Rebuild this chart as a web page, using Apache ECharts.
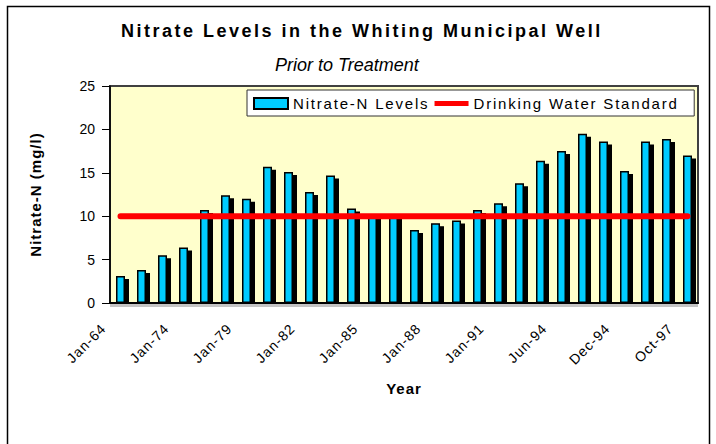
<!DOCTYPE html>
<html>
<head>
<meta charset="utf-8">
<title>Nitrate Levels in the Whiting Municipal Well</title>
<script src="https://cdn.jsdelivr.net/npm/echarts@6/dist/echarts.min.js"></script>
<style>
	html, body {
		margin: 0;
		padding: 0;
		background: #fff;
	}
	#chart {
		width: 716px;
		height: 444px;
	}
	/* spaced lettering like the excel export, picked by a dummy fallback family */
	#chart text[style*="spTitle"] { letter-spacing: 2.5px; }
	#chart text[style*="spLegend"] { letter-spacing: 1.8px; }
	#chart text[style*="spName"] { letter-spacing: 1px; }
</style>
</head>
<body>
<div id="chart"></div>
<script>
	// sample dates, only every third one is shown on the axis
	var categories = [
		'Jan-64', 'Jan-69', 'Jan-72', 'Jan-74', 'Jan-76', 'Jan-77', 'Jan-79',
		'Jan-80', 'Jan-81', 'Jan-82', 'Jan-83', 'Jan-84', 'Jan-85', 'Jan-86',
		'Jan-87', 'Jan-88', 'Jan-89', 'Jan-90', 'Jan-91', 'Jan-92', 'Jan-93',
		'Jun-94', 'Aug-94', 'Oct-94', 'Dec-94', 'Jan-96', 'Jan-97', 'Oct-97'
	];

	// Nitrate-N (mg/l)
	var nitrateLevels = [
		3.1, 3.8, 5.5, 6.4, 10.7, 12.4, 12.0,
		15.7, 15.1, 12.8, 14.7, 10.9, 10.1, 10.2,
		8.4, 9.2, 9.5, 10.7, 11.5, 13.8, 16.4,
		17.5, 19.5, 18.6, 15.2, 18.6, 18.9, 17.0
	];

	var drinkingStandard = [
		10, 10, 10, 10, 10, 10, 10,
		10, 10, 10, 10, 10, 10, 10,
		10, 10, 10, 10, 10, 10, 10,
		10, 10, 10, 10, 10, 10, 10
	];

	var yTicks = [0, 25, 5];

	var font = 'Liberation Sans';

	var option = {
		backgroundColor: '#fff',
		animation: false,
		title: [{
			text: 'Nitrate Levels in the Whiting Municipal Well',
			left: 121,
			top: 22,
			padding: 0,
			textStyle: {
				fontFamily: font + ', spTitle',
				fontSize: 18,
				fontWeight: 'bold',
				color: '#000'
			}
		}, {
			text: 'Prior to Treatment',
			left: 275,
			top: 56,
			padding: 0,
			textStyle: {
				fontFamily: font,
				fontSize: 18,
				fontStyle: 'italic',
				fontWeight: 'normal',
				color: '#000'
			}
		}],
		legend: {
			left: 247,
			top: 90,
			padding: [6, 57, 5, 6],
			itemGap: 34,
			itemWidth: 34,
			itemHeight: 11,
			backgroundColor: '#fff',
			borderColor: '#333',
			borderWidth: 1,
			borderRadius: 0,
			textStyle: {
				fontFamily: font + ', spLegend',
				fontSize: 15,
				color: '#000'
			},
			data: [{
				name: 'Nitrate-N Levels',
				icon: 'rect'
			}, {
				name: 'Drinking Water Standard',
				icon: 'path://M0,0M34,11M0,3L34,3L34,8L0,8Z',
				itemStyle: {
					borderWidth: 0
				}
			}]
		},
		grid: {
			left: 110,
			right: 18,
			top: 86,
			bottom: 141,
			show: true,
			backgroundColor: '#FFFFCC',
			borderColor: '#404040',
			borderWidth: 2
		},
		xAxis: {
			type: 'category',
			data: categories,
			name: 'Year',
			nameLocation: 'middle',
			nameGap: 78,
			nameMoveOverlap: false,
			nameTextStyle: {
				fontFamily: font + ', spName',
				fontSize: 15,
				fontWeight: 'bold',
				color: '#000'
			},
			axisLine: {
				lineStyle: {
					color: '#000',
					width: 2
				}
			},
			axisTick: {
				inside: true,
				interval: 0,
				length: 4,
				lineStyle: {
					color: '#555'
				}
			},
			axisLabel: {
				interval: 2,
				rotate: 45,
				margin: 6,
				padding: [0, 24, 0, 0],
				fontFamily: font + ', spName',
				fontSize: 14,
				color: '#000'
			}
		},
		yAxis: {
			type: 'value',
			min: yTicks[0],
			max: yTicks[1],
			interval: yTicks[2],
			name: 'Nitrate-N (mg/l)',
			nameLocation: 'middle',
			nameGap: 67,
			nameMoveOverlap: false,
			nameTextStyle: {
				fontFamily: font + ', spName',
				fontSize: 15,
				fontWeight: 'bold',
				color: '#000'
			},
			splitLine: {
				show: false
			},
			axisLine: {
				show: true,
				lineStyle: {
					color: '#000',
					width: 1.5
				}
			},
			axisTick: {
				show: true,
				length: 8,
				lineStyle: {
					color: '#000'
				}
			},
			axisLabel: {
				margin: 15,
				fontFamily: font,
				fontSize: 14,
				color: '#000'
			}
		},
		graphic: [{
			type: 'rect',
			silent: true,
			z: -10,
			shape: {
				x: 7.5,
				y: 6.5,
				width: 702,
				height: 460
			},
			style: {
				fill: null,
				stroke: '#000',
				lineWidth: 1.5
			}
		}, {
			// grey edge under the floor, hides the bar shadows there
			type: 'rect',
			silent: true,
			z: 100,
			shape: {
				x: 110,
				y: 304,
				width: 588,
				height: 3
			},
			style: {
				fill: '#c4c4c4'
			}
		}],
		series: [{
			name: 'Nitrate-N Levels',
			type: 'bar',
			data: nitrateLevels,
			barWidth: 9,
			itemStyle: {
				color: '#00CCFF',
				borderColor: '#000',
				borderWidth: 1.5,
				shadowColor: '#000',
				shadowBlur: 0,
				shadowOffsetX: 4,
				shadowOffsetY: 3
			},
			emphasis: {
				disabled: true
			}
		}, {
			name: 'Drinking Water Standard',
			type: 'line',
			data: drinkingStandard,
			symbol: 'none',
			z: 5,
			itemStyle: {
				color: '#FF0000'
			},
			lineStyle: {
				color: '#FF0000',
				width: 6,
				cap: 'round'
			},
			emphasis: {
				disabled: true
			}
		}]
	};

	var myChart = echarts.init(document.getElementById('chart'), null, {
		renderer: 'svg'
	});
	myChart.setOption(option);
</script>
</body>
</html>
